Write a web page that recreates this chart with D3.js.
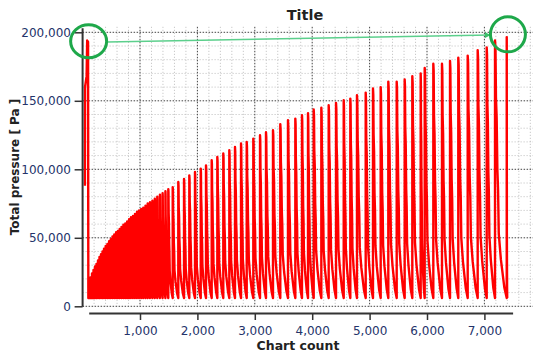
<!DOCTYPE html>
<html>
<head>
<meta charset="utf-8">
<script src="https://cdn.jsdelivr.net/npm/d3@7"></script>
<style>
  body { margin: 0; background: #fff; }
  svg { display: block; }
  text { font-family: "DejaVu Sans", Verdana, sans-serif; }
</style>
</head>
<body>
<div id="chart"></div>
<script>
// values (x = chart count, y = pressure in Pa)

// the first big spike at the very start
var spikeCount = [40, 42, 70, 80, 95, 100];
var spikePressure = [88000, 160000, 168000, 194000, 193000, 6000];

// start count of each pressure cycle and its peak
var cycleStart = [
  111, 138, 164, 190, 216, 242, 268, 294, 321, 347, 373, 402, 432, 462, 491, 521,
  552, 584, 615, 646, 678, 711, 744, 777, 810, 843, 878, 913, 948, 984, 1021, 1057,
  1096, 1134, 1174, 1216, 1258, 1301, 1347, 1394, 1443, 1493,
  1570, 1667, 1767, 1859, 1958, 2058, 2150, 2249, 2347, 2451, 2556, 2655, 2760, 2859,
  2974, 3091, 3195, 3317, 3444, 3578, 3706, 3822, 3927, 4026, 4159, 4287, 4415, 4549,
  4664, 4780, 4932, 5059, 5193, 5326, 5472, 5611, 5744, 5890, 5960, 6110, 6261, 6401,
  6545, 6709, 6883, 7040, 7185, 7389
];
var cyclePeak = [
  18000, 21000, 24000, 26500, 29000, 31000, 33500, 36000, 38000, 40000, 42000, 44000,
  45500, 47500, 49000, 51000, 52500, 54000, 55000, 56500, 58000, 59500, 60500, 62000,
  63500, 65000, 66000, 67500, 69000, 70000, 71000, 72000, 73500, 75000, 76000, 77000,
  78500, 80000, 81500, 82500, 84000, 85500,
  87000, 90700, 93000, 95600, 98000, 100500, 102900, 106600, 109000, 111500, 113900,
  116300, 118800, 120000, 122400, 124800, 127000, 128500, 133000, 135800, 137000, 139400,
  141000, 143600, 145000, 146700, 148400, 150400, 151600, 154000, 156000, 159000, 160000,
  164000, 164000, 165500, 168000, 170000, 174000, 177000, 177000, 179000, 181500, 183000,
  187000, 189000, 194000, 196500
];
var cycleLow = 6000;
// shape of one cycle: [part of cycle length, part of peak height]
// sharp rise, quick stepped fall, slow tail to the bottom
var cycleShape = [[0, 1], [0.04, 0.97], [0.08, 0.78], [0.14, 0.7], [0.2, 0.5], [0.26, 0.42], [0.32, 0.25], [0.5, 0.15], [0.8, 0.04], [1, 0]];

var yLabels = [0, 50000, 100000, 150000, 200000];
var xLabels = [1000, 2000, 3000, 4000, 5000, 6000, 7000];

var width = 533, height = 352;

var x = d3.scaleLinear().domain([0, 7500]).range([82.6, 513.1]);
var y = d3.scaleLinear().domain([0, 200000]).range([306.3, 32.3]);

var svg = d3.select("#chart").append("svg")
  .attr("width", width)
  .attr("height", height);

var gridTop = y(204000), gridRight = width;
var yMinor = d3.range(0, 204000, 10000).filter(function (v) { return v % 50000 !== 0; });
var xMinor = d3.range(200, 7900, 200).filter(function (v) { return v % 1000 !== 0; });

// grid lines, light ones first
var grid = svg.append("g");
grid.selectAll(".hmin").data(yMinor).enter().append("line")
  .attr("x1", x(0)).attr("x2", gridRight)
  .attr("y1", function (d) { return y(d); }).attr("y2", function (d) { return y(d); })
  .attr("stroke", "#bdbdbd").attr("stroke-dasharray", "1,2");
grid.selectAll(".vmin").data(xMinor).enter().append("line")
  .attr("x1", function (d) { return x(d); }).attr("x2", function (d) { return x(d); })
  .attr("y1", gridTop).attr("y2", y(0))
  .attr("stroke", "#bdbdbd").attr("stroke-dasharray", "1,2");
grid.selectAll(".hmaj").data(yLabels).enter().append("line")
  .attr("x1", x(0)).attr("x2", gridRight)
  .attr("y1", function (d) { return y(d); }).attr("y2", function (d) { return y(d); })
  .attr("stroke", "#444").attr("stroke-dasharray", "1.5,1.5");
grid.selectAll(".vmaj").data(xLabels).enter().append("line")
  .attr("x1", function (d) { return x(d); }).attr("x2", function (d) { return x(d); })
  .attr("y1", gridTop).attr("y2", y(0))
  .attr("stroke", "#444").attr("stroke-dasharray", "1.5,1.5");

// build the pressure trace from the spike and the cycles
var pts = [];
spikeCount.forEach(function (c, i) { pts.push([c, spikePressure[i]]); });
cycleStart.forEach(function (s, i) {
  var len = i < cycleStart.length - 1 ? cycleStart[i + 1] - s : 8;
  if (i === 0) pts.push([s, cycleLow]);
  cycleShape.forEach(function (c) {
    pts.push([s + c[0] * len, cycleLow + c[1] * (cyclePeak[i] - cycleLow)]);
  });
});

svg.append("path")
  .datum(pts)
  .attr("fill", "none")
  .attr("stroke", "#ff0000")
  .attr("stroke-width", 2.4)
  .attr("stroke-linejoin", "round")
  .attr("d", d3.line()
    .x(function (d) { return x(d[0]); })
    .y(function (d) { return y(d[1]); }));

var labelColor = "#24336a";

// y axis
var yAxisG = svg.append("g").attr("transform", "translate(" + x(0) + ",0)");
yAxisG.call(d3.axisLeft(y).tickValues(yMinor).tickSize(5).tickFormat(""));
yAxisG.call(d3.axisLeft(y).tickValues(yLabels).tickSize(8).tickPadding(3.7).tickFormat(d3.format(",")));
yAxisG.selectAll(".domain").remove();
yAxisG.selectAll("line").attr("stroke", "#333").attr("stroke-width", 1.5);
yAxisG.selectAll("text").attr("fill", labelColor).attr("font-size", "12px")
  .attr("font-family", "DejaVu Sans, Verdana, sans-serif");
yAxisG.append("line")
  .attr("x1", 0).attr("x2", 0)
  .attr("y1", y(0) + 0.5).attr("y2", y(203000))
  .attr("stroke", "#333").attr("stroke-width", 2);

// x axis, sits a little below the zero line
var xAxisY = 313.5;
var xAxisG = svg.append("g").attr("transform", "translate(0," + xAxisY + ")");
xAxisG.call(d3.axisBottom(x).tickValues(xMinor.filter(function (v) { return v < 7500; })).tickSize(4).tickFormat(""));
xAxisG.call(d3.axisBottom(x).tickValues(xLabels).tickSize(6.5).tickPadding(6.5).tickFormat(d3.format(",")));
xAxisG.selectAll(".domain").remove();
xAxisG.selectAll("line").attr("stroke", "#333").attr("stroke-width", 1.5);
xAxisG.selectAll("text").attr("fill", labelColor).attr("font-size", "12px")
  .attr("font-family", "DejaVu Sans, Verdana, sans-serif");
xAxisG.append("line")
  .attr("x1", x(115)).attr("x2", x(7500))
  .attr("y1", 0).attr("y2", 0)
  .attr("stroke", "#333").attr("stroke-width", 2);

// titles
svg.append("text")
  .attr("x", 305).attr("y", 20)
  .attr("text-anchor", "middle")
  .attr("font-size", "14.5px").attr("font-weight", "bold").attr("fill", "#222")
  .text("Title");
svg.append("text")
  .attr("x", 298).attr("y", 349.5)
  .attr("text-anchor", "middle")
  .attr("font-size", "12.5px").attr("font-weight", "bold").attr("fill", "#222")
  .text("Chart count");
svg.append("text")
  .attr("transform", "translate(19,167) rotate(-90)")
  .attr("text-anchor", "middle")
  .attr("font-size", "12px").attr("font-weight", "bold").attr("fill", "#222")
  .text("Total pressure [ Pa ]");

// green marks pointing at the first and last peak
var green = "#1ea84a";
svg.append("defs").append("marker")
  .attr("id", "arrow")
  .attr("viewBox", "0 0 10 10")
  .attr("refX", 9).attr("refY", 5)
  .attr("markerWidth", 6).attr("markerHeight", 6)
  .attr("markerUnits", "userSpaceOnUse")
  .attr("orient", "auto")
  .append("path")
  .attr("d", "M0,0L10,5L0,10z")
  .attr("fill", "#3cbf6a");
svg.append("line")
  .attr("x1", x(430)).attr("y1", y(193000))
  .attr("x2", x(7100)).attr("y2", y(198000))
  .attr("stroke", "#5ccf8c").attr("stroke-width", 1.5)
  .attr("marker-end", "url(#arrow)");
svg.append("ellipse")
  .attr("cx", x(105)).attr("cy", y(193500))
  .attr("rx", 18).attr("ry", 16.5)
  .attr("fill", "none").attr("stroke", green).attr("stroke-width", 3);
svg.append("ellipse")
  .attr("cx", x(7410)).attr("cy", y(198500))
  .attr("rx", 17.5).attr("ry", 17.5)
  .attr("fill", "none").attr("stroke", green).attr("stroke-width", 3);
</script>
</body>
</html>
